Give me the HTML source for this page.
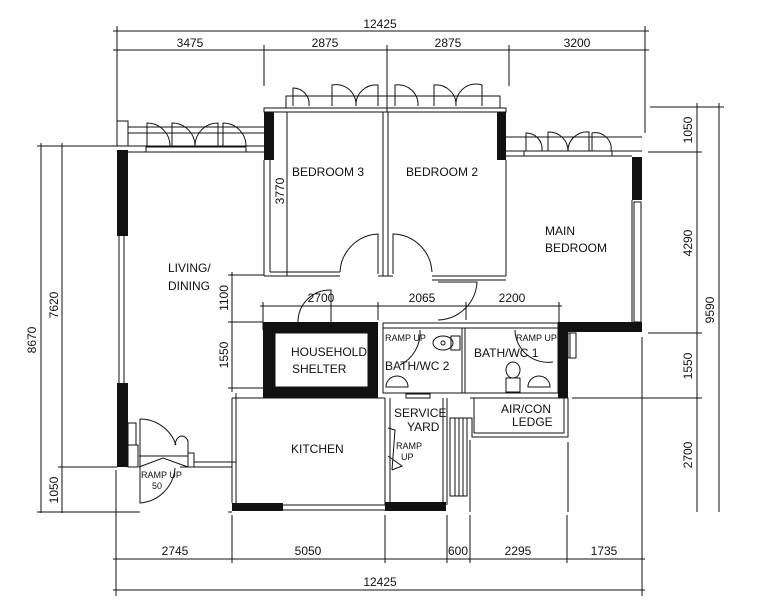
<!DOCTYPE html>
<html><head><meta charset="utf-8"><style>
html,body{margin:0;padding:0;background:#fff;}
svg{display:block;}
text{font-family:"Liberation Sans",sans-serif;font-size:12px;fill:#111;}
.s{font-size:9px;}
</style></head><body>
<svg width="766" height="600" viewBox="0 0 766 600" xmlns="http://www.w3.org/2000/svg">
<g stroke="#111" stroke-width="1" fill="none">
<!-- top dims -->
<line x1="113" y1="31" x2="649" y2="31"/>
<line x1="113" y1="50" x2="649" y2="50"/>
<line x1="117" y1="26" x2="117" y2="122"/>
<line x1="264" y1="45" x2="264" y2="86"/>
<line x1="387" y1="45" x2="387" y2="112"/>
<line x1="509" y1="45" x2="509" y2="86"/>
<line x1="645" y1="26" x2="645" y2="133"/>
<!-- right dims -->
<line x1="697" y1="103" x2="697" y2="512"/>
<line x1="719" y1="103" x2="719" y2="512"/>
<line x1="650" y1="107" x2="724" y2="107"/>
<line x1="648" y1="152" x2="702" y2="152"/>
<line x1="648" y1="333" x2="702" y2="333"/>
<line x1="572" y1="398" x2="702" y2="398"/>
<!-- left dims -->
<line x1="41" y1="143" x2="41" y2="513"/>
<line x1="62" y1="143" x2="62" y2="513"/>
<line x1="37" y1="146" x2="117" y2="146"/>
<line x1="58" y1="467" x2="117" y2="467"/>
<line x1="37" y1="512" x2="140" y2="512"/>
<line x1="228" y1="512" x2="232" y2="512"/>
<!-- bottom dims -->
<line x1="116" y1="470" x2="116" y2="596"/>
<line x1="232" y1="515" x2="232" y2="563"/>
<line x1="385" y1="515" x2="385" y2="563"/>
<line x1="447" y1="515" x2="447" y2="563"/>
<line x1="470" y1="515" x2="470" y2="563"/>
<line x1="567" y1="515" x2="567" y2="563"/>
<line x1="642" y1="337" x2="642" y2="596"/>
<line x1="113" y1="559" x2="645" y2="559"/>
<line x1="113" y1="590" x2="645" y2="590"/>
<!-- inner dims -->
<line x1="232" y1="272" x2="232" y2="392"/>
<line x1="228" y1="275" x2="264" y2="275"/>
<line x1="228" y1="322" x2="263" y2="322"/>
<line x1="228" y1="388" x2="263" y2="388"/>
<line x1="260" y1="306" x2="562" y2="306"/>
<line x1="263" y1="302" x2="263" y2="330"/>
<line x1="378" y1="302" x2="378" y2="320"/>
<line x1="466" y1="302" x2="466" y2="320"/>
<line x1="559" y1="302" x2="559" y2="322"/>
<line x1="287" y1="112" x2="287" y2="276"/>
<!-- left balcony -->
<rect x="117" y="121" width="11" height="25"/>
<line x1="128" y1="127" x2="264" y2="127"/>
<line x1="128" y1="133" x2="264" y2="133"/>
<line x1="128" y1="146" x2="264" y2="146"/>
<line x1="128" y1="152" x2="264" y2="152"/>
<rect x="146" y="147" width="100" height="5"/>
<path d="M147 147 V123 A23 23 0 0 1 170 147"/>
<path d="M172 147 V123 A23 23 0 0 1 195 147 A23 23 0 0 1 218 123 V147"/>
<path d="M223 147 V123 A23 23 0 0 1 246 147"/>
<!-- left wall -->
<line x1="119" y1="236" x2="119" y2="383"/>
<line x1="124" y1="236" x2="124" y2="383"/>
<!-- bedroom top windows -->
<rect x="264" y="108" width="242" height="4"/>
<rect x="286" y="96" width="214" height="12"/>
<path d="M293 106 V88 A16 16 0 0 1 309 106"/>
<path d="M332 106 V85 A20 20 0 0 1 356 106 A20 20 0 0 1 378 85 V106"/>
<path d="M395 106 V85 A20 20 0 0 1 418 106"/>
<path d="M434 106 V85 A20 20 0 0 1 456 106 A20 20 0 0 1 482 85 V106"/>
<!-- bedrooms -->
<line x1="264" y1="160" x2="264" y2="276"/>
<line x1="270" y1="160" x2="270" y2="272"/>
<line x1="264" y1="276" x2="340" y2="276"/>
<line x1="270" y1="272" x2="340" y2="272"/>
<line x1="383" y1="112" x2="383" y2="276"/>
<line x1="388" y1="112" x2="388" y2="276"/>
<line x1="378" y1="276" x2="393" y2="276"/>
<path d="M378 274 V234 A40 40 0 0 0 340 272"/>
<path d="M393 274 V234 A40 40 0 0 1 432 272"/>
<line x1="432" y1="276" x2="506" y2="276"/>
<line x1="432" y1="280" x2="506" y2="280"/>
<line x1="506" y1="160" x2="506" y2="276"/>
<path d="M438 282 H477 A40 40 0 0 1 438 320"/>
<path d="M331 322 V290 A32 32 0 0 0 298 322"/>
<!-- main bedroom -->
<line x1="506" y1="137" x2="642" y2="137"/>
<line x1="506" y1="151" x2="642" y2="151"/>
<line x1="506" y1="156" x2="632" y2="156"/>
<rect x="524" y="151" width="88" height="5"/>
<path d="M526 151 V133 A16 16 0 0 1 542 151"/>
<path d="M548 151 V132 A19 19 0 0 1 568 151 A19 19 0 0 1 589 132 V151"/>
<path d="M592 151 V133 A16 16 0 0 1 611 151"/>
<rect x="634" y="202" width="7" height="120"/>
<line x1="632" y1="200" x2="632" y2="322"/>
<!-- shelter -->
<rect x="275" y="333" width="93" height="54" fill="#fff"/>
<!-- baths -->
<rect x="383" y="323" width="175" height="70"/>
<line x1="383" y1="328" x2="558" y2="328"/>
<line x1="462" y1="328" x2="462" y2="393"/>
<line x1="465" y1="328" x2="465" y2="393"/>
<rect x="560" y="333" width="10" height="25"/>
<rect x="568" y="333" width="8" height="25"/>
<ellipse cx="443" cy="343" rx="10" ry="7"/>
<circle cx="443" cy="343" r="2"/>
<rect x="451" y="336" width="9" height="14"/>
<path d="M386 387 A11 11 0 0 1 408 387 Z"/>
<path d="M528 387 A11 11 0 0 1 550 387 Z"/>
<ellipse cx="513" cy="370" rx="7" ry="8"/>
<rect x="506" y="378" width="14" height="14"/>
<path d="M420 330 A36 36 0 0 1 400 365"/>
<path d="M515 330 A33 33 0 0 0 553 362"/>
<!-- kitchen -->
<line x1="232" y1="398" x2="385" y2="398"/>
<line x1="236" y1="393" x2="236" y2="503"/>
<line x1="232" y1="398" x2="232" y2="503"/>
<line x1="232" y1="467" x2="180" y2="467"/>
<line x1="283" y1="505" x2="385" y2="505"/>
<line x1="283" y1="510" x2="385" y2="510"/>
<!-- service yard -->
<line x1="385" y1="398" x2="385" y2="505"/>
<line x1="390" y1="398" x2="390" y2="505"/>
<line x1="443" y1="398" x2="443" y2="505"/>
<line x1="447" y1="398" x2="447" y2="505"/>
<rect x="406" y="394" width="24" height="4"/>
<path d="M388 428 L395 430 L392 470 M388 456 L402 466 L392 470"/>
<rect x="450" y="418" width="17" height="78"/>
<line x1="455" y1="418" x2="455" y2="496"/><line x1="459" y1="418" x2="459" y2="496"/><line x1="463" y1="418" x2="463" y2="496"/>
<!-- ledge -->
<path d="M470 398 H568 V437 H472 V418 H467"/>
<path d="M474 398 V433 H564 V398"/>
<line x1="568" y1="442" x2="568" y2="512"/>
<line x1="470" y1="440" x2="470" y2="512"/>
<!-- entrance -->
<rect x="128" y="423" width="8" height="22"/>
<rect x="128" y="445" width="10" height="22"/>
<path d="M140 419 A38 38 0 0 1 176 445 M140 419 V503 A38 38 0 0 0 175 468"/>
<path d="M175 445 A7 10 0 0 1 188 441 V456"/>
<rect x="188" y="453" width="6" height="14"/>
<line x1="194" y1="462" x2="236" y2="462"/>
<line x1="139" y1="456" x2="188" y2="456"/>
<path d="M139 467 L163 458 L188 467"/>
</g>
<g fill="#111">
<rect x="117" y="150" width="11" height="86"/>
<rect x="117" y="383" width="11" height="84"/>
<rect x="264" y="112" width="10" height="48"/>
<rect x="497" y="112" width="9" height="48"/>
<rect x="632" y="157" width="10" height="43"/>
<rect x="558" y="322" width="84" height="10"/>
<rect x="558" y="332" width="10" height="66"/>
<rect x="263" y="322" width="115" height="76"/>
<rect x="232" y="503" width="51" height="8"/>
<rect x="385" y="502" width="61" height="9"/>
</g>
<rect x="275" y="333" width="93" height="54" fill="#fff" stroke="#111"/>
<text x="380" y="28" text-anchor="middle">12425</text>
<text x="190" y="47" text-anchor="middle">3475</text>
<text x="325" y="47" text-anchor="middle">2875</text>
<text x="448" y="47" text-anchor="middle">2875</text>
<text x="577" y="47" text-anchor="middle">3200</text>
<text x="175" y="555" text-anchor="middle">2745</text>
<text x="308" y="555" text-anchor="middle">5050</text>
<text x="458" y="555" text-anchor="middle">600</text>
<text x="518" y="555" text-anchor="middle">2295</text>
<text x="604" y="555" text-anchor="middle">1735</text>
<text x="380" y="586" text-anchor="middle">12425</text>
<text x="321" y="302" text-anchor="middle">2700</text>
<text x="422" y="302" text-anchor="middle">2065</text>
<text x="512" y="302" text-anchor="middle">2200</text>
<g text-anchor="middle">
<text transform="translate(692,130) rotate(-90)">1050</text>
<text transform="translate(692,243) rotate(-90)">4290</text>
<text transform="translate(692,366) rotate(-90)">1550</text>
<text transform="translate(692,455) rotate(-90)">2700</text>
<text transform="translate(714,310) rotate(-90)">9590</text>
<text transform="translate(36,340) rotate(-90)">8670</text>
<text transform="translate(58,305) rotate(-90)">7620</text>
<text transform="translate(58,490) rotate(-90)">1050</text>
<text transform="translate(228,298) rotate(-90)">1100</text>
<text transform="translate(228,355) rotate(-90)">1550</text>
<text transform="translate(284,191) rotate(-90)">3770</text>
</g>
<text x="292" y="176">BEDROOM 3</text>
<text x="406" y="176">BEDROOM 2</text>
<text x="545" y="235">MAIN</text>
<text x="545" y="252">BEDROOM</text>
<text x="168" y="272">LIVING/</text>
<text x="168" y="290">DINING</text>
<text x="291" y="356">HOUSEHOLD</text>
<text x="292" y="373">SHELTER</text>
<text x="385" y="370">BATH/WC 2</text>
<text x="474" y="357">BATH/WC 1</text>
<text x="291" y="453">KITCHEN</text>
<text x="394" y="417">SERVICE</text>
<text x="407" y="431">YARD</text>
<text x="501" y="413">AIR/CON</text>
<text x="512" y="426">LEDGE</text>
<text class="s" x="385" y="341">RAMP UP</text>
<text class="s" x="516" y="341">RAMP UP</text>
<text class="s" x="396" y="449">RAMP</text>
<text class="s" x="401" y="460">UP</text>
<text class="s" x="141" y="478">RAMP UP</text>
<text class="s" x="152" y="489">50</text>
</svg>
</body></html>
